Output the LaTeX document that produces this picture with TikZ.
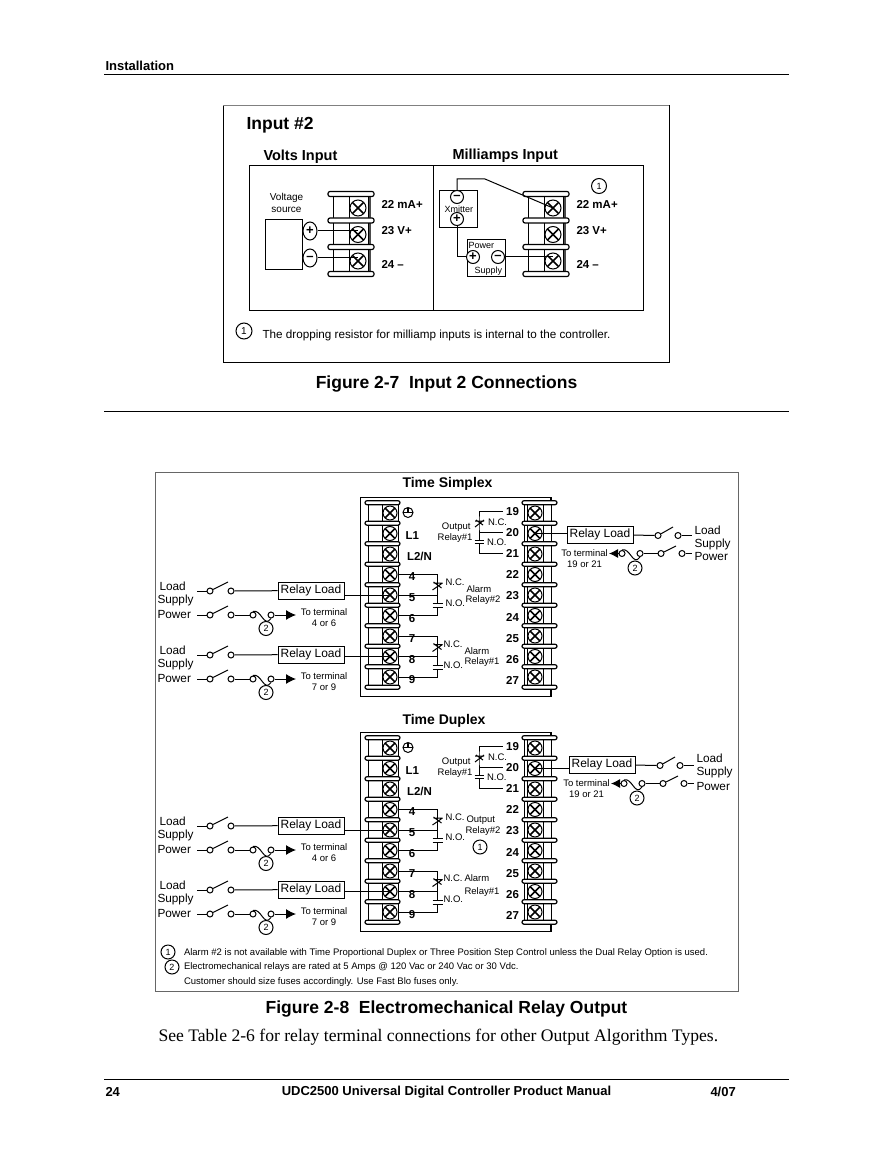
\documentclass[tikz,border=0pt]{standalone}
\usepackage{fontspec}
\setmainfont{Liberation Sans}
\newfontfamily\bodyserif{Liberation Serif}
\usetikzlibrary{arrows.meta, shapes.geometric}

\begin{document}
\begin{tikzpicture}[x=1pt, y=-1pt, line width=1pt,
  screw/.style={circle, draw, fill=white, minimum size=14pt, inner sep=0pt, path picture={\draw[line width=1.5pt] (path picture bounding box.south west) -- (path picture bounding box.north east) (path picture bounding box.south east) -- (path picture bounding box.north west);}},
  bigscrew/.style={screw, minimum size=16pt},
  bar/.style={draw, fill=white, rounded corners=2pt, inner sep=0pt, minimum width=35pt, minimum height=4pt, line width=1.2pt},
  bigbar/.style={bar, minimum width=46pt, minimum height=5pt},
  contact/.style={circle, draw, fill=white, inner sep=0pt, minimum size=6pt},
  relaybox/.style={draw, inner sep=0pt, minimum width=66pt, minimum height=17pt, font=\fontsize{12}{12}\selectfont},
  numcirc/.style={circle, draw, fill=white, inner sep=0pt, minimum size=14pt, font=\fontsize{9}{9}\selectfont},
  plus/.style={circle, draw, fill=white, inner sep=0pt, minimum size=13pt, font=\fontsize{13}{13}\bfseries\selectfont},
  oval/.style={ellipse, draw, fill=white, inner sep=0pt, minimum width=14pt, minimum height=18pt, font=\fontsize{13}{13}\bfseries\selectfont},
  gnd/.style={circle, draw, inner sep=0pt, minimum size=10pt, path picture={\draw[line width=1.3pt] (path picture bounding box.west) -- (path picture bounding box.east) (path picture bounding box.north) -- (path picture bounding box.center);}},
  head/.style={inner sep=0pt, font=\fontsize{13}{13}\bfseries\selectfont},
  caption/.style={inner sep=0pt, font=\fontsize{17.5}{17.5}\bfseries\selectfont},
  term/.style={inner xsep=3pt, inner ysep=0pt, font=\fontsize{11.5}{11.5}\bfseries\selectfont},
  small/.style={inner sep=0pt, anchor=west, font=\fontsize{9.5}{9.5}\selectfont},
  tiny/.style={small, font=\fontsize{9}{9}\selectfont},
  supply/.style={inner sep=0pt, anchor=west, font=\fontsize{11.8}{11.8}\selectfont},
  tolabel/.style={inner sep=0pt, align=center, font=\fontsize{9.5}{11}\selectfont},
  note/.style={inner sep=0pt, anchor=west, font=\fontsize{9.5}{9.5}\selectfont}]
\useasboundingbox (0,0) rectangle (892,1155);

% Page header
\node[head, anchor=west] (pagehead) at (105,66) {Installation};
\coordinate (headl) at (104,75);
\coordinate (headr) at (789,75);
\draw (headl) -- (headr);

% Input 2 frame
\draw (223,106) rectangle (669,362);
\draw[black!50] (223,106) -- (669,106);
\node[inner sep=0pt, anchor=west, font=\fontsize{17.5}{17.5}\bfseries\selectfont] (inputtitle) at (246,125) {Input \#2};
\node[inner sep=0pt, anchor=west, font=\fontsize{14.5}{14.5}\bfseries\selectfont] (voltstitle) at (263,157) {Volts Input};
\node[inner sep=0pt, anchor=west, font=\fontsize{14.5}{14.5}\bfseries\selectfont] (mamptitle) at (452,156) {Milliamps Input};
\draw (249,166) rectangle (643,310);
\draw (433,166) -- (433,310);

% Input 2 terminals
\foreach \bn/\xo in {v/0, m/195} {
  \begin{scope}[shift={(\xo,0)}]
    \foreach \i/\yy in {0/208, 1/234.5, 2/261} {
      \draw[fill=white] (333,\yy-13) rectangle (349,\yy+13);
      \draw[fill=white] (349,\yy-13) rectangle (368,\yy+13);
      \draw[line width=1.5pt, black!70] (370,\yy-11) -- (370,\yy+11);
    }
    \foreach \j/\yy in {0/194, 1/220.5, 2/247, 3/274} {
      \node[bigbar] (\bn bar\j) at (351,\yy) {};
    }
    \foreach \i/\yy in {0/208, 1/234.5, 2/261} {
      \node[bigscrew] (\bn s\i) at (358,\yy) {};
    }
    \node[term, anchor=west] (\bn t22) at (378,204.5) {22 mA+};
    \node[term, anchor=west] (\bn t23) at (378,230.5) {23 V+};
    \node[term, anchor=west] (\bn t24) at (378,264.5) {24 --};
  \end{scope}
}

% Volts input
\node[draw, inner sep=0pt, minimum width=37pt, minimum height=50pt] (source) at (283.5,245) {};
\node[inner sep=0pt, align=center, font=\fontsize{10}{12.5}\selectfont] (sourcetxt) at (286.5,203) {Voltage\\source};
\node[oval] (srcplus) at (310,231) {+};
\node[oval] (srcminus) at (310,258) {--};
\draw (srcplus.east) -- (srcplus -| vs1);
\draw (srcminus.east) -- (srcminus -| vs2);

% Milliamps input
\node[draw, inner sep=0pt, minimum width=38pt, minimum height=37pt] (xmitter) at (458,209.5) {};
\node[tiny] (xmittxt) at (444,209) {Xmitter};
\node[plus] (xminus) at (457,197) {--};
\node[plus] (xplus) at (457,219) {+};
\node[draw, inner sep=0pt, minimum width=38pt, minimum height=37pt] (psu) at (486,258.5) {};
\node[tiny] (psutop) at (468,245) {Power};
\node[tiny] (psubot) at (474,271) {Supply};
\node[plus] (psuplus) at (473,257) {+};
\node[plus] (psuminus) at (498,257) {--};
\coordinate (wirea) at (457,179);
\coordinate (wireb) at (485,179);
\draw (xminus) -- (wirea) -- (wireb) -- (ms0.center);
\draw (xplus) |- (psuplus);
\draw (psuminus) -- (psuminus -| ms2);
\node[numcirc, minimum size=15pt] (mamark) at (599,186) {1};
\node[numcirc, minimum size=16pt, font=\fontsize{10}{10}\selectfont] (dropmark) at (244,331) {1};
\node[inner sep=0pt, anchor=west, font=\fontsize{11.7}{11.7}\selectfont] (droptxt) at (262,335) {The dropping resistor for milliamp inputs is internal to the controller.};

\node[caption] (figa) at (446.5,384) {Figure 2-7\hspace{0.55em}Input 2 Connections};
\coordinate (midl) at (104,411);
\coordinate (midr) at (789,411);
\draw (midl) -- (midr);

% Relay frame
\draw[black!60] (155,472) rectangle (738,991);
\node[inner sep=0pt, font=\fontsize{14}{14}\bfseries\selectfont] (simplex) at (447.5,484) {Time Simplex};
\node[inner sep=0pt, font=\fontsize{14}{14}\bfseries\selectfont] (duplex) at (444,721) {Time Duplex};

% Relay blocks
\foreach \bn/\yo in {A/0, B/235} {
  \begin{scope}[shift={(0,\yo)}]
    \draw (360,497) rectangle (551,696);
    \draw[line width=2pt] (551,497) -- (551,696);
    \foreach \i in {0,...,8} {
      \draw[fill=white] (368,{513+20.5*\i-9}) rectangle (382,{513+20.5*\i+9});
      \draw[fill=white] (382,{513+20.5*\i-9}) rectangle (398,{513+20.5*\i+9});
      \draw[fill=white] (527,{513+20.5*\i-9}) rectangle (543,{513+20.5*\i+9});
      \draw[fill=white] (543,{513+20.5*\i-9}) rectangle (551,{513+20.5*\i+9});
      \draw (524,{513+20.5*\i-8}) -- (524,{513+20.5*\i+8});
    }
    \foreach \j in {0,...,9} {
      \node[bar] (\bn lb\j) at (382.5,{502.7+20.5*\j}) {};
      \node[bar] (\bn rb\j) at (539.5,{502.7+20.5*\j}) {};
    }
    \foreach \i in {0,...,8} {
      \node[screw] (\bn s\i) at (390,{513+20.5*\i}) {};
      \node[screw] (\bn r\i) at (535,{513+20.5*\i}) {};
    }
    % Terminal numbers
    \foreach \i [evaluate=\i as \nn using int(19+\i)] in {0,...,8} {
      \node[term] (\bn n\nn) at (512.5,{511.5+21.1*\i}) {\nn};
    }
    \foreach \i/\nn in {0/4, 1/5, 2/6, 3/7, 4/8, 5/9} {
      \node[term] (\bn n\nn) at (412,{577+20.6*\i}) {\nn};
    }
    \node[gnd] (\bn gnd) at (408,512.5) {};
    \node[term, inner xsep=0pt, anchor=west] (\bn lone) at (405,536) {L1};
    \node[term, inner xsep=0pt, anchor=west] (\bn ltwo) at (406.5,556) {L2/N};
    % Output relay contact
    \coordinate (\bn oa) at (479,521);
    \coordinate (\bn ob) at (479,540);
    \coordinate (\bn oc) at (479,543.5);
    \draw (\bn n19.west) -| (\bn oa) -- (\bn ob);
    \draw (\bn n20.west) -- (\bn n20.west -| \bn oa);
    \draw (\bn n21.west) -| (\bn oc);
    \draw (\bn oa) ++(-4,0) -- ++(9,0) (\bn oa) ++(-4,6) -- ++(9,-7) (\bn oa) ++(-3,-1) -- ++(7,5);
    \draw (\bn ob) ++(-4.5,0) -- ++(9,0) (\bn oc) ++(-4.5,0) -- ++(9,0);
    \node[small] (\bn onc) at (487.5,522) {N.C.};
    \node[small] (\bn ono) at (486.5,542) {N.O.};
    % Alarm contacts
    \foreach \c/\dy/\p/\q/\r in {p/0/3/4/5, q/61.5/6/7/8} {
      \coordinate (\bn\c a) at (437.5,{583+\dy});
      \coordinate (\bn\c b) at (437.5,{603.5+\dy});
      \coordinate (\bn\c c) at (437.5,{607.5+\dy});
      \draw (\bn s\p.east) -| (\bn\c a) -- (\bn\c b);
      \draw (\bn s\q.east) -- (\bn s\q.east -| \bn\c a);
      \draw (\bn s\r.east) -| (\bn\c c);
      \draw (\bn\c a) ++(-4,0) -- ++(9,0) (\bn\c a) ++(-5,7) -- ++(10,-7) (\bn\c a) ++(-4,-1) -- ++(8,6);
      \draw (\bn\c b) ++(-5,0) -- ++(10,0) (\bn\c c) ++(-5,0) -- ++(10,0);
    }
  \end{scope}
}

% Contact labels, Time Simplex
\node[small, anchor=east] (Aout) at (471,527) {Output};
\node[small, anchor=east] (Arel) at (473,538) {Relay\#1};
\node[small] (Apnc) at (445,582) {N.C.};
\node[small] (Apno) at (445,603) {N.O.};
\node[small] (Apal) at (466,589) {Alarm};
\node[small] (Aprl) at (465,600) {Relay\#2};
\node[small] (Aqnc) at (443,644) {N.C.};
\node[small] (Aqno) at (443,665) {N.O.};
\node[small] (Aqal) at (464,651) {Alarm};
\node[small] (Aqrl) at (464,662) {Relay\#1};

% Contact labels, Time Duplex
\node[small, anchor=east] (Bout) at (471,762) {Output};
\node[small, anchor=east] (Brel) at (473,773) {Relay\#1};
\node[small] (Bpnc) at (445,817) {N.C.};
\node[small] (Bpno) at (445,837) {N.O.};
\node[small] (Bpal) at (466,820) {Output};
\node[small] (Bprl) at (465,831) {Relay\#2};
\node[numcirc] (Bmark) at (480,847) {1};
\node[small] (Bqnc) at (443,878) {N.C.};
\node[small] (Bqno) at (443,899) {N.O.};
\node[small] (Bqal) at (464,878) {Alarm};
\node[small] (Bqrl) at (464,892) {Relay\#1};

% Loads on the left
\foreach \g/\yo/\sc/\ends in {a/0/As4/4 or 6, b/64/As7/7 or 9, c/235/Bs4/4 or 6, d/299/Bs7/7 or 9} {
  \begin{scope}[shift={(0,\yo)}]
    \node[supply] (\g lo) at (159,586) {Load};
    \node[supply] (\g su) at (157,600.5) {Supply};
    \node[supply] (\g po) at (157,614) {Power};
    \node[relaybox] (\g box) at (311,590.5) {Relay Load};
    \coordinate (\g ia) at (197,591);
    \node[contact] (\g ca) at (210,591) {};
    \node[contact] (\g cb) at (231,591) {};
    \coordinate (\g ba) at (228,582);
    \draw (\g ia) -- (\g ca);
    \draw (\g ca) -- (\g ba);
    \draw (\g cb) -- (\g box);
    \draw (\g box.east |- \sc) -- (\sc.center);
    \coordinate (\g ib) at (197,615);
    \node[contact] (\g cc) at (210,615) {};
    \node[contact] (\g cd) at (231,615) {};
    \node[contact] (\g fa) at (253,615) {};
    \node[contact] (\g fb) at (271,615) {};
    \coordinate (\g bb) at (228,606);
    \coordinate (\g tip) at (296,615);
    \draw (\g ib) -- (\g cc);
    \draw (\g cc) -- (\g bb);
    \draw (\g cd) -- (\g fa);
    \draw (\g fa.north) .. controls +(8,-3) and +(-7,10) .. (\g fb.south);
    \draw[-{Latex[length=10pt, width=10pt]}] (\g fb) -- (\g tip);
    \node[numcirc] (\g fz) at (266,628.5) {2};
    \node[tolabel] (\g to) at (324,617.5) {To terminal\\\ends};
  \end{scope}
}

% Loads on the right
\foreach \g/\xo/\yo/\sc/\sy in {e/0/0/Ar1/0, f/2/230/Br1/-1.5} {
  \begin{scope}[shift={(\xo,\yo)}]
    \node[relaybox] (\g box) at (600,534.5) {Relay Load};
    \node[contact] (\g ca) at (658,535.5) {};
    \node[contact] (\g cb) at (678,535.5) {};
    \coordinate (\g ba) at (673,527);
    \coordinate (\g ia) at (692,535.5);
    \draw (\sc.center) -- (\sc -| \g box.west);
    \draw (\g box) -- (\g ca);
    \draw (\g ca) -- (\g ba);
    \draw (\g cb) -- (\g ia);
    \coordinate (\g tip) at (609,553.5);
    \node[contact] (\g fa) at (622,553.5) {};
    \node[contact] (\g fb) at (640,553.5) {};
    \node[contact] (\g cc) at (661,553.5) {};
    \node[contact] (\g cd) at (682,553.5) {};
    \coordinate (\g bb) at (676,546);
    \coordinate (\g ib) at (692,553.5);
    \draw[-{Latex[length=9pt, width=9pt]}] (\g fa) -- (\g tip);
    \draw (\g fa.north) .. controls +(8,-3) and +(-7,10) .. (\g fb.south);
    \draw (\g fb) -- (\g cc);
    \draw (\g cc) -- (\g bb);
    \draw (\g cd) -- (\g ib);
    \node[numcirc] (\g fz) at (635,568) {2};
    \node[tolabel] (\g to) at (584.5,558.5) {To terminal\\19 or 21};
    \node[supply] (\g lo) at (694,{530+\sy}) {Load};
    \node[supply] (\g su) at (694,{544+\sy}) {Supply};
    \node[supply] (\g po) at (694,556) {Power};
  \end{scope}
}

% Notes
\node[numcirc] (noteone) at (168,952) {1};
\node[numcirc] (notetwo) at (172,967) {2};
\node[note] (linea) at (183.5,953) {Alarm \#2 is not available with Time Proportional Duplex or Three Position Step Control unless the Dual Relay Option is used.};
\node[note] (lineb) at (183.5,967) {Electromechanical relays are rated at 5 Amps @ 120 Vac or 240 Vac or 30 Vdc.};
\node[note] (linec) at (183.5,982) {Customer should size fuses accordingly. Use Fast Blo fuses only.};

\node[caption] (figb) at (446.5,1009) {Figure 2-8\hspace{0.55em}Electromechanical Relay Output};
\node[inner sep=0pt, anchor=west, font=\bodyserif\fontsize{17.6}{17.6}\selectfont] (seetxt) at (158,1037) {See Table 2-6 for relay terminal connections for other Output Algorithm Types.};

% Page footer
\coordinate (footl) at (104,1079);
\coordinate (footr) at (789,1079);
\draw (footl) -- (footr);
\node[head, anchor=west] (footnum) at (105,1091.5) {24};
\node[head] (footmid) at (446.5,1092.5) {UDC2500 Universal Digital Controller Product Manual};
\node[head, anchor=west] (footdate) at (710,1091.5) {4/07};
\end{tikzpicture}
\end{document}
